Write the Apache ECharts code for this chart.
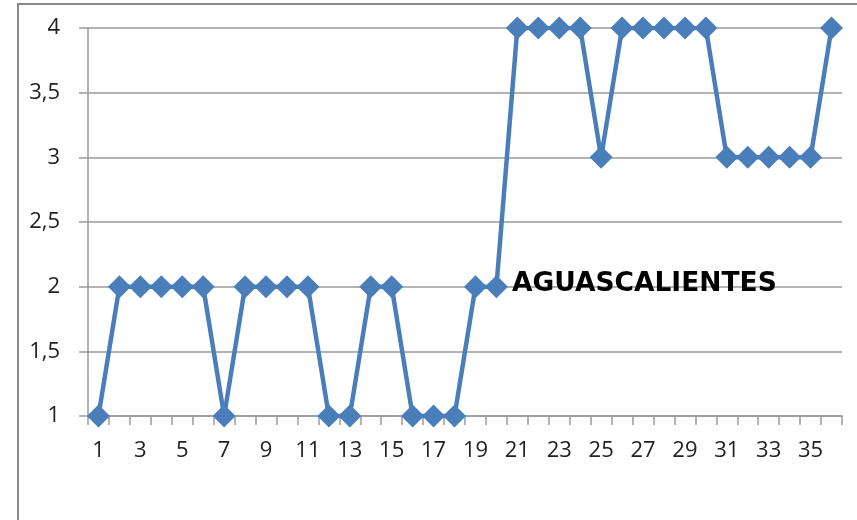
<!DOCTYPE html>
<html><head><meta charset="utf-8">
<script src="https://cdn.jsdelivr.net/npm/echarts@6/dist/echarts.min.js"></script>
<style>html,body{margin:0;padding:0;background:#fff}#c{width:857px;height:520px}</style>
</head><body><div id="c"></div>
<script>
const categories = ['1','2','3','4','5','6','7','8','9','10','11','12','13','14','15','16','17','18','19','20','21','22','23','24','25','26','27','28','29','30','31','32','33','34','35','36'];
const values = [1,2,2,2,2,2,1,2,2,2,2,1,1,2,2,1,1,1,2,2,4,4,4,4,3,4,4,4,4,4,3,3,3,3,3,4];
const labelIndex = 19;
const labelText = 'AGUASCALIENTES';
const yTicks = [1,1.5,2,2.5,3,3.5,4];

const chart = echarts.init(document.getElementById('c'));
const font = '"Open Sans", sans-serif';
chart.setOption({
  animation:false,
  graphic:[{type:'rect',shape:{x:18,y:4,width:900,height:600},style:{fill:'none',stroke:'#8a8a8a',lineWidth:2},silent:true}],
  grid:{left:88,top:28,right:15,bottom:104,containLabel:false},
  xAxis:{type:'category',data:categories,boundaryGap:true,
    axisLine:{lineStyle:{color:'#9a9a9a',width:1.5}},
    axisTick:{show:true,interval:0,length:9,lineStyle:{color:'#9a9a9a',width:1.5}},
    axisLabel:{interval:1,color:'#222',fontSize:22,fontFamily:font,margin:24}},
  yAxis:{type:'value',min:1,max:4,interval:0.5,
    axisLine:{show:true,lineStyle:{color:'#9a9a9a',width:1.5}},
    axisTick:{show:true,length:9,lineStyle:{color:'#9a9a9a',width:1.5}},
    splitLine:{lineStyle:{color:'#9a9a9a',width:1.5}},
    axisLabel:{color:'#222',fontSize:22,fontFamily:font,margin:28,
      formatter:v=>yTicks.includes(v)?String(v).replace('.',','):''}},
  series:[{type:'line',data:values.map((v,i)=>i===labelIndex?{value:v,label:{show:true,position:'right',distance:4,offset:[0,-3],formatter:labelText,color:'#000',fontWeight:'bold',fontSize:26.5,fontFamily:'"DejaVu Sans", sans-serif'}}:v),
    symbol:'diamond',symbolSize:23,showAllSymbol:true,
    lineStyle:{color:'#4a7ebb',width:4.5},
    itemStyle:{color:'#4a7ebb'}}]
});
</script></body></html>
